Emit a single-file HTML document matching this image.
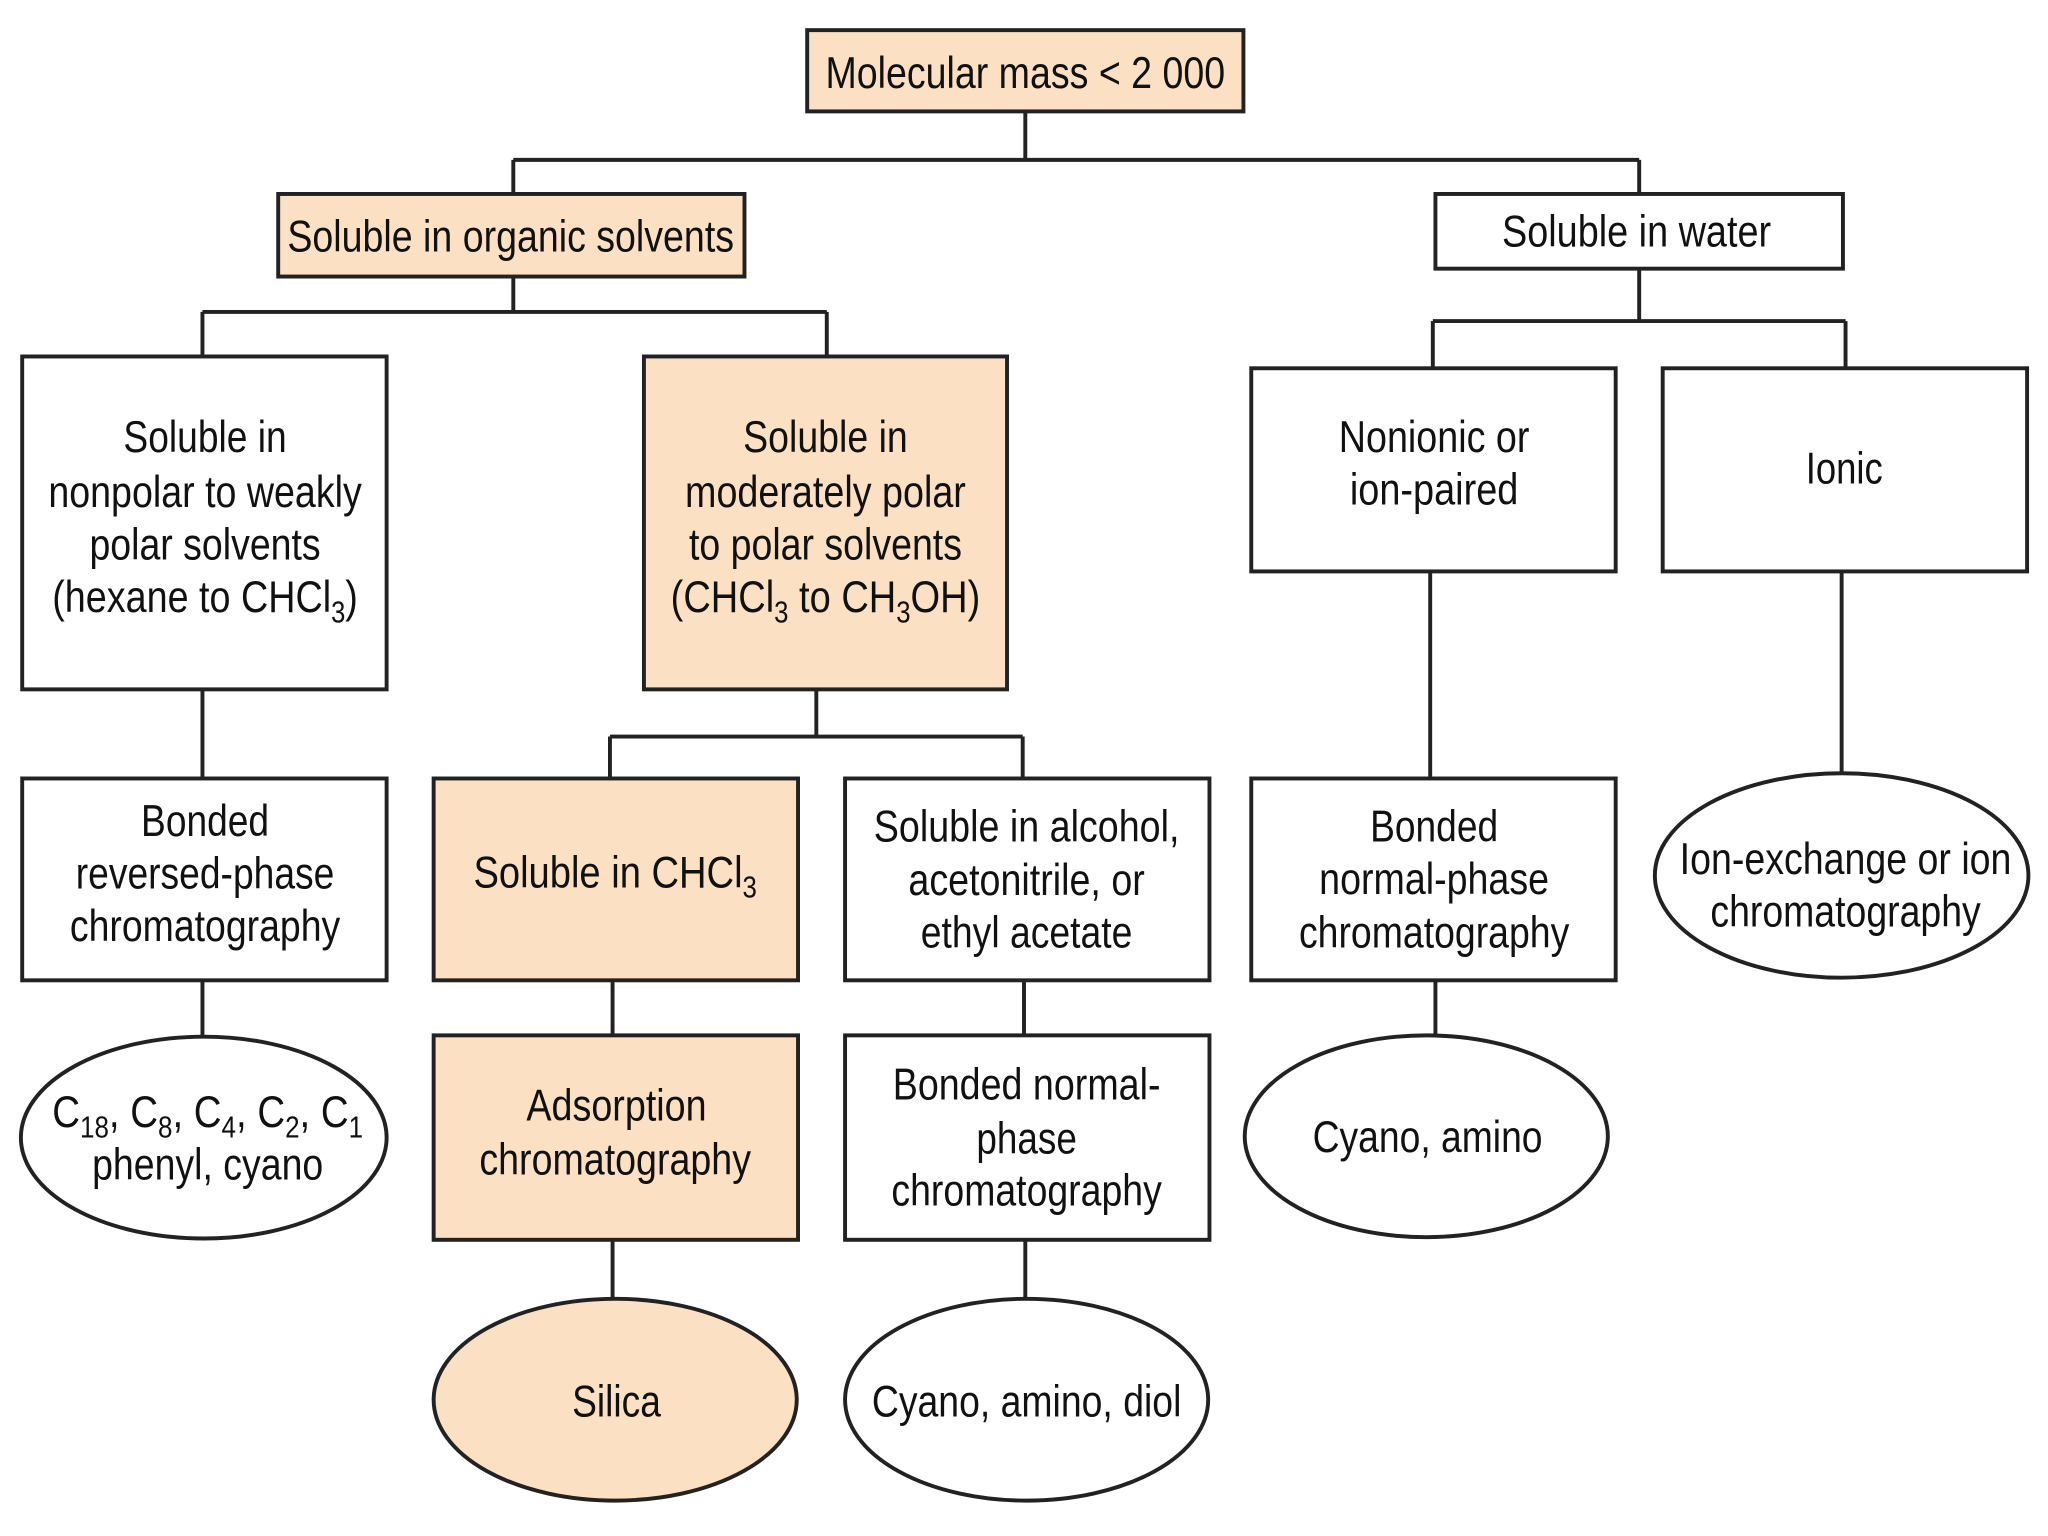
<!DOCTYPE html>
<html><head><meta charset="utf-8"><style>html,body{margin:0;padding:0;background:#fff}svg{display:block}text{font-family:"Liberation Sans Narrow","Liberation Sans",sans-serif;font-size:34px;fill:#111;text-anchor:middle}</style></head>
<body>
<svg width="2048" height="1536" viewBox="0 0 1568 1172" preserveAspectRatio="none" xmlns="http://www.w3.org/2000/svg">
<g stroke="#222" stroke-width="3" fill="none">
<path d="M785 85V122M393 122H1255M393 122V148M1255 122V148"/>
<path d="M393 211V238M155 238H633M155 238V272M633 238V272"/>
<path d="M1255 205V245M1097 245H1413M1097 245V281M1413 245V281"/>
<path d="M155 526V594M625 526V562M467 562H783M467 562V594M783 562V594M1095 436V594M1410 436V592"/>
<path d="M155 748V790M469 748V790M784 748V790M1099 748V790M469 946V992M785 946V992"/>
</g>
<g stroke="#222" stroke-width="3">
<rect x="618" y="23" width="334" height="62" fill="#fce0c4"/>
<rect x="213" y="148" width="357" height="63" fill="#fce0c4"/>
<rect x="1099" y="148" width="312" height="57" fill="#fff"/>
<rect x="17" y="272" width="279" height="254" fill="#fff"/>
<rect x="493" y="272" width="278" height="254" fill="#fce0c4"/>
<rect x="958" y="281" width="279" height="155" fill="#fff"/>
<rect x="1273" y="281" width="279" height="155" fill="#fff"/>
<rect x="17" y="594" width="279" height="154" fill="#fff"/>
<rect x="332" y="594" width="279" height="154" fill="#fce0c4"/>
<rect x="647" y="594" width="279" height="154" fill="#fff"/>
<rect x="958" y="594" width="279" height="154" fill="#fff"/>
<rect x="332" y="790" width="279" height="156" fill="#fce0c4"/>
<rect x="647" y="790" width="279" height="156" fill="#fff"/>
<ellipse cx="1410" cy="668" rx="143" ry="78" fill="#fff"/>
<ellipse cx="156" cy="868" rx="140" ry="77" fill="#fff"/>
<ellipse cx="1092" cy="867" rx="139" ry="77" fill="#fff"/>
<ellipse cx="471" cy="1068" rx="139" ry="77" fill="#fce0c4"/>
<ellipse cx="786" cy="1068" rx="139" ry="77" fill="#fff"/>
</g>
<text x="785" y="67" textLength="306" lengthAdjust="spacingAndGlyphs">Molecular mass &lt; 2 000</text>
<text x="391" y="192" textLength="342" lengthAdjust="spacingAndGlyphs">Soluble in organic solvents</text>
<text x="1253" y="188" textLength="206" lengthAdjust="spacingAndGlyphs">Soluble in water</text>
<text x="157" y="345" textLength="125" lengthAdjust="spacingAndGlyphs">Soluble in</text>
<text x="157" y="387" textLength="240" lengthAdjust="spacingAndGlyphs">nonpolar to weakly</text>
<text x="157" y="427" textLength="177" lengthAdjust="spacingAndGlyphs">polar solvents</text>
<text x="157" y="467" textLength="234" lengthAdjust="spacingAndGlyphs">(hexane to CHCl<tspan font-size="23" dy="8">3</tspan><tspan dy="-8">)</tspan></text>
<text x="632" y="345" textLength="126" lengthAdjust="spacingAndGlyphs">Soluble in</text>
<text x="632" y="387" textLength="215" lengthAdjust="spacingAndGlyphs">moderately polar</text>
<text x="632" y="427" textLength="209" lengthAdjust="spacingAndGlyphs">to polar solvents</text>
<text x="632" y="467" textLength="237" lengthAdjust="spacingAndGlyphs">(CHCl<tspan font-size="23" dy="8">3</tspan><tspan dy="-8"> to CH</tspan><tspan font-size="23" dy="8">3</tspan><tspan dy="-8">OH)</tspan></text>
<text x="1098" y="345" textLength="146" lengthAdjust="spacingAndGlyphs">Nonionic or</text>
<text x="1098" y="385" textLength="129" lengthAdjust="spacingAndGlyphs">ion-paired</text>
<text x="1412" y="369" textLength="59" lengthAdjust="spacingAndGlyphs">Ionic</text>
<text x="157" y="638" textLength="98" lengthAdjust="spacingAndGlyphs">Bonded</text>
<text x="157" y="678" textLength="198" lengthAdjust="spacingAndGlyphs">reversed-phase</text>
<text x="157" y="718" textLength="207" lengthAdjust="spacingAndGlyphs">chromatography</text>
<text x="471" y="677" textLength="217" lengthAdjust="spacingAndGlyphs">Soluble in CHCl<tspan font-size="23" dy="8">3</tspan></text>
<text x="786" y="642" textLength="234" lengthAdjust="spacingAndGlyphs">Soluble in alcohol,</text>
<text x="786" y="683" textLength="181" lengthAdjust="spacingAndGlyphs">acetonitrile, or</text>
<text x="786" y="723" textLength="162" lengthAdjust="spacingAndGlyphs">ethyl acetate</text>
<text x="1098" y="642" textLength="98" lengthAdjust="spacingAndGlyphs">Bonded</text>
<text x="1098" y="682" textLength="176" lengthAdjust="spacingAndGlyphs">normal-phase</text>
<text x="1098" y="723" textLength="207" lengthAdjust="spacingAndGlyphs">chromatography</text>
<text x="1413" y="667" textLength="254" lengthAdjust="spacingAndGlyphs">Ion-exchange or ion</text>
<text x="1413" y="707" textLength="207" lengthAdjust="spacingAndGlyphs">chromatography</text>
<text x="159" y="860" textLength="238" lengthAdjust="spacingAndGlyphs">C<tspan font-size="23" dy="8">18</tspan><tspan dy="-8">, C</tspan><tspan font-size="23" dy="8">8</tspan><tspan dy="-8">, C</tspan><tspan font-size="23" dy="8">4</tspan><tspan dy="-8">, C</tspan><tspan font-size="23" dy="8">2</tspan><tspan dy="-8">, C</tspan><tspan font-size="23" dy="8">1</tspan></text>
<text x="159" y="900" textLength="177" lengthAdjust="spacingAndGlyphs">phenyl, cyano</text>
<text x="472" y="855" textLength="138" lengthAdjust="spacingAndGlyphs">Adsorption</text>
<text x="471" y="896" textLength="208" lengthAdjust="spacingAndGlyphs">chromatography</text>
<text x="786" y="839" textLength="205" lengthAdjust="spacingAndGlyphs">Bonded normal-</text>
<text x="786" y="880" textLength="77" lengthAdjust="spacingAndGlyphs">phase</text>
<text x="786" y="920" textLength="207" lengthAdjust="spacingAndGlyphs">chromatography</text>
<text x="1093" y="879" textLength="176" lengthAdjust="spacingAndGlyphs">Cyano, amino</text>
<text x="472" y="1081" textLength="68" lengthAdjust="spacingAndGlyphs">Silica</text>
<text x="786" y="1081" textLength="237" lengthAdjust="spacingAndGlyphs">Cyano, amino, diol</text>
</svg>
</body></html>
